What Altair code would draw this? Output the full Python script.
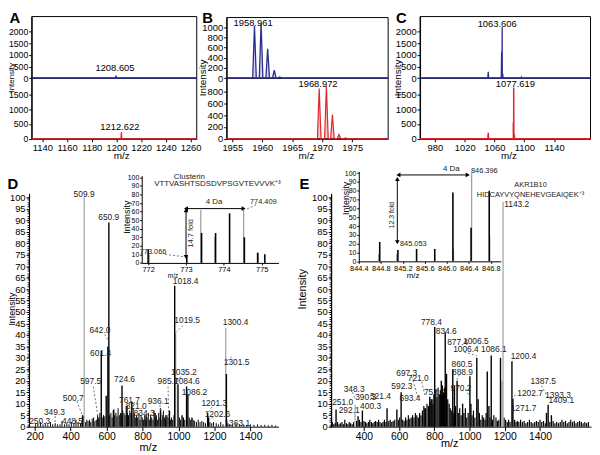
import altair as alt
import pandas as pd

W, H = 591, 446
FONT = "Liberation Sans"
BLUE = "#2b2d8e"
RED = "#e3242b"
GREY = "#a0a0a0"

# ---------------- data ----------------
# panel A (two stacked spectra)
A_blue_mz = [1199.7]
A_blue_h = [110]
A_red_mz = [1204.0]
A_red_h = [230]
# panel B
B_blue_mz = [1958.7, 1959.8, 1960.9, 1962.0, 1962.9]
B_blue_h = [1020, 1070, 575, 155, 20]
B_red_mz = [1969.5, 1970.7, 1971.7, 1972.8, 1973.9]
B_red_h = [853, 893, 411, 71, 14]
# panel C
C_blue_mz = [1051.6, 1069.6, 1070.3, 1071.0, 1096.0]
C_blue_h = [270, 1150, 2210, 200, 40]
C_red_mz = [1051.6, 1085.3, 1085.8, 1086.5]
C_red_h = [200, 550, 1730, 150]

# panel D main spectrum
D_black_mz = [612.7, 607.2, 598, 570.5, 979, 997.4, 1045, 1052.4, 1266.7, 1162.3, 1167.8, 686, 640,
              713.5, 740, 820, 870, 900, 930, 950, 1020, 1075, 466, 557]
D_black_h = [89, 35, 13.5, 33, 61.5, 18.5, 17.5, 14, 23, 6, 4, 18, 7.5, 9, 11, 5, 6, 8, 5, 7, 5, 4, 5, 4]
D_grey_mz = [475.3, 1263, 984.5]
D_grey_h = [100, 43, 41]
D_noise_mz = [205, 218, 232, 246, 259, 273, 288, 300, 314, 327, 341, 352, 366, 379, 391, 404, 418, 430, 442,
              455, 463, 470, 482, 490, 497, 505, 512, 520, 528, 535, 543, 550, 563, 576, 583, 590, 617, 624,
              631, 637, 645, 652, 658, 664, 671, 677, 684, 690, 697, 703, 709, 716, 722, 729, 735, 741, 748,
              754, 760, 767, 773, 780, 786, 792, 799, 805, 812, 818, 825, 832, 838, 845, 851, 858, 864, 871,
              877, 884, 890, 897, 903, 910, 916, 923, 929, 936, 942, 949, 955, 962, 968, 975, 1005, 1012,
              1028, 1035, 1060, 1068, 1082, 1090, 1100, 1110, 1120, 1130, 1140, 1150, 1175, 1185, 1195,
              1210, 1222, 1235, 1248, 1275, 1285, 1300, 1320, 1340, 1360, 1380, 1400, 1420, 1440, 1460,
              1480, 1500, 1520, 1540]
D_noise_h = [1, 1.5, 2, 1, 1.5, 1, 2, 1, 1.5, 1, 1, 2.5, 1, 1.5, 1, 2, 1.5, 3, 2, 1.5, 2.5, 4.5, 2, 3, 2.5,
             3, 2, 3.5, 4, 2.5, 3, 5, 6, 4, 5, 4.5, 5, 6, 4, 7, 5, 6, 4.5, 8, 5, 6, 5.5, 7, 6, 5, 9, 6, 5,
             7, 6, 5, 8, 6, 4, 5, 4, 6, 3, 5, 4, 3, 5, 3, 4, 6, 3, 5, 4, 3, 7, 4, 5, 3, 6, 4, 3, 5, 7, 4,
             3, 5, 4, 6, 3, 4, 3, 5, 4, 3, 4, 3, 4, 3, 3, 2.5, 2, 3, 2, 2.5, 2, 1.5, 2, 1.5, 2, 1.5, 1, 2,
             1, 1.5, 1, 1, 1.5, 1, 1, 0.8, 1, 0.8, 1, 0.7, 0.8, 0.6, 0.8, 0.5]
D_lab_text = ["509.9", "650.9", "642.0", "601.4", "1018.4", "1019.5", "1300.4", "1301.5", "1035.2",
              "1084.6", "1086.2", "1201.3", "1202.6", "1363.1", "724.6", "761.7", "821.0", "834.3",
              "936.1", "985.7", "597.5", "500.7", "349.3", "448.5", "250.3"]
D_lab_mz = [475, 612.3, 562.9, 566.7, 1040, 1048.3, 1317.7, 1323.2, 1030.2, 1046.7, 1089, 1199, 1217,
            1327, 700, 727.8, 764.6, 808.6, 887.2, 942.2, 511.7, 414.4, 310, 410.6, 227.5]
D_lab_i = [101.6, 91.2, 42.2, 31.9, 63.5, 46.3, 45.6, 28.3, 24, 19.7, 15.1, 10.3, 5.3, 1.7, 20.8, 11.5,
           8.9, 6, 11.3, 19.7, 19.7, 12.5, 6.5, 2.5, 2.5]
D_lead_x1 = [590.4, 1024.6, 1295.7, 1012, 1061.5, 1185.8, 1195, 942.2, 896.6, 526, 434.8, 313.8]
D_lead_y1 = [40.2, 44.1, 30.5, 21.8, 13.9, 8.5, 4.2, 17.5, 9.4, 17.5, 11.1, 4.6]
D_lead_x2 = [609.9, 987.9, 1268.2, 997.2, 1052.2, 1166, 1173, 945.9, 905.4, 553.5, 469.4, 313.8]
D_lead_y2 = [37.6, 41.2, 28.6, 19.7, 12.1, 6.3, 3.6, 4.6, 4.6, 3.6, 4.2, 0]

# panel D inset
Di_black_mz = [772.0, 773.02, 773.41, 773.78, 774.15, 774.54, 774.89, 775.08]
Di_black_h = [16, 8, 35, 35, 58, 30, 12, 10]
Di_grey_mz = [772.03, 773.39, 773.76, 774.52, 774.91]
Di_grey_h = [10, 62, 30, 62, 11]

# panel E main spectrum
E_black_mz = [241.3, 366.3, 391, 531, 587, 611, 708, 745.8, 773.8, 786.7, 801.8, 839.3, 861.7, 869,
              904.4, 914, 929, 960.4, 1001.8, 1007.5, 1041, 1048.4, 1100.5, 1110, 1123, 1175.7, 1240.7,
              1246.3, 1446.4, 1437, 1465]
E_black_h = [7.5, 4.5, 7, 8, 7.5, 15, 4, 8, 13, 12, 43.5, 20, 41, 23, 25, 18, 20, 10, 22, 10, 30, 12,
             24, 9, 31, 30, 28.5, 12, 9.5, 6, 5]
E_grey_mz = [349.5, 1190.2, 1184.6]
E_grey_h = [9.5, 98, 20]
E_noise_mz = [220, 228, 236, 250, 258, 266, 275, 283, 291, 300, 308, 316, 324, 333, 341, 358, 374, 383,
              400, 408, 416, 425, 433, 442, 450, 458, 466, 475, 483, 491, 500, 508, 516, 525, 541, 549,
              558, 566, 575, 595, 603, 620, 628, 636, 644, 652, 660, 668, 676, 684, 692, 700, 716, 724,
              732, 740, 750, 758, 766, 776, 782, 792, 797, 808, 815, 821, 828, 834, 846, 852, 858, 876,
              884, 890, 896, 910, 920, 936, 944, 952, 968, 976, 984, 992, 1014, 1022, 1030, 1056, 1064,
              1072, 1080, 1088, 1094, 1116, 1130, 1138, 1150, 1158, 1166, 1196, 1205, 1214, 1222, 1230,
              1256, 1264, 1272, 1280, 1290, 1300, 1310, 1320, 1330, 1340, 1350, 1360, 1370, 1380, 1390,
              1400, 1410, 1420, 1430, 1456, 1475, 1485, 1495, 1505, 1515, 1525, 1535, 1545, 1555, 1565,
              1575, 1585, 1595, 1605, 1615, 1625, 1635, 1645, 1655, 1665, 1675]
E_noise_h = [2, 1, 1.5, 2, 1, 1.5, 2, 1, 3, 1.5, 1, 2, 1.5, 1, 2, 2.5, 3, 2, 2.5, 2, 1.5, 2, 3, 2, 1.5,
             2, 2.5, 2, 3, 2, 1.5, 2, 3, 2, 2.5, 3, 2, 2.5, 3, 3, 4, 3, 2.5, 4, 3, 5, 3.5, 4, 5, 4, 6, 5,
             6, 5, 7, 9, 8, 10, 9, 11, 12, 10, 14, 16, 13, 17, 14, 16, 18, 15, 17, 12, 10, 8, 7, 6, 9, 6,
             8, 5, 6, 8, 4, 6, 5, 7, 4, 6, 3, 5, 4, 3, 6, 4, 3, 5, 4, 2.5, 3, 4, 3, 2, 3, 2, 3, 2, 2.5,
             2, 3, 2, 2.5, 1.5, 2, 3, 2, 1.5, 2, 2.5, 2, 3, 2, 2.5, 1.5, 2, 2.5, 1.5, 2, 1.5, 2, 3, 2,
             2.5, 1.5, 2, 3, 2, 2.5, 1.5, 2, 2.5, 2, 1.5, 2, 1.5, 2]
E_lab_text = ["778.4", "834.6", "877.4", "1006.5", "1006.4", "1086.1", "1200.4", "860.5", "888.9",
              "970.2", "697.3", "721.0", "752.0", "592.3", "521.4", "348.3", "693.4", "390.3", "400.3",
              "251.0", "292.1", "1387.5", "1202.7", "1393.3", "1271.7", "1409.1", "1143.2"]
E_lab_mz = [783.3, 867.4, 932.4, 1035.5, 979.4, 1138, 1306.3, 957, 960, 951.5, 643, 708.3, 800, 615,
            493.5, 343.9, 661.7, 409.5, 437.5, 278.9, 315.9, 1418.4, 1343.8, 1502.5, 1306.3, 1520.9, 1268]
E_lab_i = [45.6, 41.8, 37, 37.5, 33.9, 33.9, 31, 27.5, 23.9, 16.7, 23.2, 21, 14.9, 17.9, 13.2, 16.4,
           12.4, 12.7, 8.9, 10.6, 7.2, 19.9, 14.6, 13.9, 8.2, 11.5, 96.9]
E_lead_x1 = [671.2, 727.3, 334.9, 979.5, 1259.8, 1408.9, 970, 942]
E_lead_y1 = [21.8, 19.6, 15, 16.4, 13.9, 17.9, 32.5, 22.7]
E_lead_x2 = [708.2, 745.8, 349.5, 1001.9, 1240.7, 1446.4, 1041, 927]
E_lead_y2 = [12.4, 13.9, 12.4, 12.4, 10.3, 12.4, 31, 20.3]

# panel E inset
Ei_black_mz = [844.78, 845.11, 845.45, 845.78, 846.11, 846.44, 846.77]
Ei_black_h = [22, 13, 14, 14, 78, 38, 80]
Ei_grey_mz = [844.76, 845.09, 846.12, 846.45, 846.78]
Ei_grey_h = [8, 8, 14, 100, 28]

# ---------------- panel geometry (pixels inside the plot area) ----------------
P = {
    "A_top": dict(xd=[1131.4, 1265], xr=[24, 191], yd=[0, 2660], yr=[68.3, 6]),
    "A_bot": dict(xd=[1131.4, 1265], xr=[24, 191], yd=[0, 2050], yr=[129.7, 68.3]),
    "B_top": dict(xd=[1954.06, 1981], xr=[221.3, 384.7], yd=[0, 1188], yr=[68.3, 7]),
    "B_bot": dict(xd=[1954.06, 1981], xr=[221.3, 384.7], yd=[0, 1030], yr=[129.7, 68.3]),
    "C_top": dict(xd=[960, 1189], xr=[417, 589.5], yd=[0, 2660], yr=[68.3, 6]),
    "C_bot": dict(xd=[960, 1189], xr=[417, 589.5], yd=[0, 2050], yr=[129.7, 68.3]),
    "D": dict(xd=[168.7, 1556.3], xr=[21.3, 273.7], yd=[0, 101.7], yr=[421, 185]),
    "Di": dict(xd=[771.83, 775.44], xr=[135.3, 273.7], yd=[0, 102], yr=[255.3, 167]),
    "E": dict(xd=[213.3, 1690], xr=[327, 590], yd=[0, 101.7], yr=[421, 185]),
    "Ei": dict(xd=[844.4, 846.98], xr=[355, 498.7], yd=[0, 102], yr=[253.7, 162.7]),
}


def sc(d, r):
    return alt.Scale(domain=d, range=r, nice=False, zero=False)


def enc(p, xf="x", yf="y", xaxis=None, yaxis=None, **extra):
    g = P[p]
    e = dict(x=alt.X(xf, type="quantitative", scale=sc(g["xd"], g["xr"]), axis=xaxis),
             y=alt.Y(yf, type="quantitative", scale=sc(g["yd"], g["yr"]), axis=yaxis))
    e.update(extra)
    return e


def axis_left(p, values, size=9.5, fmt="d", tick=3, labels=True, domain=True, pad=1):
    return alt.Axis(orient="left", offset=-P[p]["xr"][0], values=values, format=fmt, grid=False,
                    title=None, labelFont=FONT, labelFontSize=size, labelColor="black",
                    tickColor="black", domainColor="black", tickSize=tick, labelPadding=pad,
                    labelFlush=False, labelOverlap=False, labels=labels, domain=domain)


def axis_bottom(p, values, size=9.5, fmt="d", tick=3):
    return alt.Axis(orient="bottom", offset=P[p]["yr"][0] - H, values=values, format=fmt, grid=False,
                    title=None, labelFont=FONT, labelFontSize=size, labelColor="black",
                    tickColor="black", domainColor="black", tickSize=tick, labelPadding=1,
                    labelFlush=False, labelOverlap=False)


layers = []


def profile(mz, h, hw, dom):
    pts = [(dom[0], 0.0), (dom[1], 0.0)]
    for c, v in zip(mz, h):
        pts += [(c - hw, 0.0), (c, v), (c + hw, 0.0)]
    pts.sort()
    return pd.DataFrame(pts, columns=["x", "y"])


def box(p):
    g = P[p]
    return pd.DataFrame({"x": [g["xd"][0]], "x2": [g["xd"][1]], "y": [0], "y2": [g["yd"][1]]})


def label_df(texts, xs, ys):
    return pd.DataFrame({"x": xs, "y": ys, "t": texts})


# ---- top row panels ----
top_specs = [
    ("A", A_blue_mz, A_blue_h, A_red_mz, A_red_h, 0.35, [1140, 1160, 1180, 1200, 1220, 1240, 1260],
     [0, 500, 1000, 1500, 2000], [0, 500, 1000, 1500], 8.8),
    ("B", B_blue_mz, B_blue_h, B_red_mz, B_red_h, 0.3, [1955, 1960, 1965, 1970, 1975],
     [0, 200, 400, 600, 800, 1000], [0, 200, 400, 600, 800], 9.5),
    ("C", C_blue_mz, C_blue_h, C_red_mz, C_red_h, 0.5, [980, 1020, 1060, 1100, 1140],
     [0, 500, 1000, 1500, 2000], [0, 500, 1000, 1500], 9.5),
]
for name, bmz, bh, rmz, rh, hw, xt, ytt, ytb, ysz in top_specs:
    pt, pb = name + "_top", name + "_bot"
    dft = profile(bmz, bh, hw, P[pt]["xd"])
    dfb = profile(rmz, rh, hw, P[pb]["xd"])
    if name == "B":
        layers.append(alt.Chart(dft).mark_area(color="#c9c9ec", opacity=0.8).encode(**enc(pt)))
        layers.append(alt.Chart(dfb).mark_area(color="#f4bcbc", opacity=0.8).encode(**enc(pb)))
    layers.append(alt.Chart(box(pt)).mark_rect(fillOpacity=0, stroke="black", strokeWidth=1)
                  .encode(**enc(pt, x2="x2", y2="y2")))
    layers.append(alt.Chart(box(pb)).mark_rect(fillOpacity=0, stroke="black", strokeWidth=1)
                  .encode(**enc(pb, x2="x2", y2="y2")))
    layers.append(alt.Chart(dft).mark_line(color=BLUE, strokeWidth=1.3)
                  .encode(**enc(pt, yaxis=axis_left(pt, ytt, size=ysz))))
    layers.append(alt.Chart(dfb).mark_line(color=RED, strokeWidth=1.5 if name == "C" else 1.2)
                  .encode(**enc(pb, yaxis=axis_left(pb, ytb, size=ysz), xaxis=axis_bottom(pb, xt))))

top_labels = [
    ("A_top", "1208.605", 1198.8, 451), ("A_bot", "1212.622", 1202.8, 385),
    ("B_top", "1958.961", 1958.46, 1077), ("B_bot", "1968.972", 1969.3, 936),
    ("C_top", "1063.606", 1063.6, 2330), ("C_bot", "1077.619", 1088, 1865),
]
for p, t, xv, yv in top_labels:
    layers.append(alt.Chart(label_df([t], [xv], [yv])).mark_text(font=FONT, fontSize=9.5, color="black")
                  .encode(**enc(p, text="t")))


# ---- spectra D / E ----
def sticks(p, mz, h, color, width=1.0):
    df = pd.DataFrame({"x": mz, "y": h, "y0": [0] * len(mz)})
    return alt.Chart(df).mark_rule(color=color, strokeWidth=width).encode(**enc(p, y2="y0"))


def leaders(p, x1, y1, x2, y2):
    df = pd.DataFrame({"x": x1, "y": y1, "x2": x2, "y2": y2})
    return alt.Chart(df).mark_rule(color="#555555", strokeWidth=0.8, strokeDash=[2, 2]).encode(
        **enc(p, x2="x2", y2="y2"))


def texts(p, t, xs, ys, size=8.5, **kw):
    return alt.Chart(label_df(t, xs, ys)).mark_text(font=FONT, fontSize=size, color="#222222", **kw).encode(
        **enc(p, text="t"))


five = [0, 5, 10, 15, 20, 25, 30, 35, 40, 45, 50, 55, 60, 65, 70, 75, 80, 85, 90, 95, 100]
minor = list(range(0, 101))
xticks_main = [200, 400, 600, 800, 1000, 1200, 1400]

for p, nmz, nh, nw, bmz, bh, gmz, gh, lt, lx, ly, l1, l2, l3, l4, xt in [
    ("D", D_noise_mz, D_noise_h, 1.0, D_black_mz, D_black_h, D_grey_mz, D_grey_h, D_lab_text, D_lab_mz,
     D_lab_i, D_lead_x1, D_lead_y1, D_lead_x2, D_lead_y2, xticks_main),
    ("E", E_noise_mz, E_noise_h, 1.2, E_black_mz, E_black_h, E_grey_mz, E_grey_h, E_lab_text, E_lab_mz,
     E_lab_i, E_lead_x1, E_lead_y1, E_lead_x2, E_lead_y2, [400, 600, 800, 1000, 1200, 1400]),
]:
    # minor ticks
    layers.append(sticks(p, [P[p]["xd"][0]], [0], "black").encode(
        y=alt.Y("y", type="quantitative", scale=sc(P[p]["yd"], P[p]["yr"]),
                axis=axis_left(p, minor, labels=False, tick=2))))
    layers.append(sticks(p, nmz, nh, "black", nw).encode(
        y=alt.Y("y", type="quantitative", scale=sc(P[p]["yd"], P[p]["yr"]),
                axis=axis_left(p, five, size=9.5, tick=3, pad=1)),
        x=alt.X("x", type="quantitative", scale=sc(P[p]["xd"], P[p]["xr"]),
                axis=axis_bottom(p, xt, size=10.5, tick=4))))
    layers.append(sticks(p, gmz, gh, GREY, 1.2))
    layers.append(sticks(p, bmz, bh, "black", 1.4))
    layers.append(leaders(p, l1, l2, l3, l4))
    layers.append(texts(p, lt, lx, ly))

# ---- insets ----
for p, bmz, bh, gmz, gh, yt, xt, fmt in [
    ("Di", Di_black_mz, Di_black_h, Di_grey_mz, Di_grey_h, [0, 10, 20, 30, 40, 50, 60, 70, 80, 90, 100],
     [772, 773, 774, 775], "d"),
    ("Ei", Ei_black_mz, Ei_black_h, Ei_grey_mz, Ei_grey_h, [0, 10, 20, 30, 40, 50, 60, 70, 80, 90, 100],
     [844.4, 844.8, 845.2, 845.6, 846.0, 846.4, 846.8], ".1f"),
]:
    layers.append(sticks(p, gmz, gh, GREY, 1.3).encode(
        y=alt.Y("y", type="quantitative", scale=sc(P[p]["yd"], P[p]["yr"]),
                axis=axis_left(p, yt, size=7, tick=2)),
        x=alt.X("x", type="quantitative", scale=sc(P[p]["xd"], P[p]["xr"]),
                axis=axis_bottom(p, xt, size=7.5, fmt=fmt, tick=2))))
    layers.append(sticks(p, bmz, bh, "black", 1.6))

# inset annotations
layers.append(texts("Di", ["Clusterin"], [773.09], [100], size=8))
layers.append(texts("Di", ["VTTVASHTSDSDVPSGVTEVVVK⁺³"], [773.83], [92.4], size=8))
layers.append(texts("Di", ["4 Da"], [773.74], [71.1], size=8))
layers.append(texts("Di", ["773.066"], [772.13], [12.2], size=7.5))
layers.append(texts("Di", ["774.409"], [775.04], [71.1], size=7.5))
layers.append(texts("Di", ["14.7 fold"], [773.13], [34.6], size=7.5, angle=270))
layers.append(leaders("Di", [772.45, 774.85], [10, 68], [772.98, 774.56], [7, 62]))
layers.append(texts("Ei", ["AKR1B10"], [847.52], [86.8], size=7.5))
layers.append(texts("Ei", ["HIDCAYVYQNEHEVGEAIQEK⁺³"], [847.52], [75.6], size=7.5))
layers.append(texts("Ei", ["4 Da"], [846.08], [104.7], size=8))
layers.append(texts("Ei", ["845.053"], [845.39], [19.8], size=7.5))
layers.append(texts("Ei", ["846.396"], [846.68], [102.6], size=7.5))
layers.append(texts("Ei", ["12.3 fold"], [845.0], [52.4], size=7, angle=270))

# arrows
for p, hx1, hx2, hy, vx, vy1, vy2 in [("Di", 773.0, 774.52, 63.5, 773.0, 61.5, 6.9),
                                      ("Ei", 845.12, 846.38, 98, 845.1, 93.5, 21.7)]:
    df = pd.DataFrame({"x": [hx1, vx], "y": [hy, vy1], "x2": [hx2, vx], "y2": [hy, vy2]})
    layers.append(alt.Chart(df).mark_rule(color="black", strokeWidth=1).encode(**enc(p, x2="x2", y2="y2")))
    heads = pd.DataFrame({"x": [hx1, hx2, vx, vx], "y": [hy, hy, vy1, vy2],
                          "s": ["triangle-left", "triangle-right", "triangle-up", "triangle-down"]})
    layers.append(alt.Chart(heads).mark_point(filled=True, color="black", size=22, opacity=1).encode(
        **enc(p, shape=alt.Shape("s", type="nominal", scale=None, legend=None))))


# ---- titles and panel letters ----
def note(text, x, y, size=10, angle=0, weight="normal"):
    return alt.Chart(pd.DataFrame({"t": [text]})).mark_text(
        font=FONT, fontSize=size, angle=angle, fontWeight=weight, color="black").encode(
        x=alt.value(x), y=alt.value(y), text="t")


for t, x, y in [("A", 2, 2), ("B", 197, 2), ("C", 393, 2), ("D", 0, 170), ("E", 295, 170)]:
    layers.append(note(t, x + 5, y + 6, size=15, weight="bold"))
layers.append(note("Intensity", 4, 68, size=8, angle=270))
for x, y in [(197, 68), (395, 68)]:
    layers.append(note("Intensity", x, y, size=10, angle=270))
for x, y in [(115, 147.5), (302, 147.5), (507, 147.5)]:
    layers.append(note("m/z", x, y, size=10))
layers.append(note("Intensity", 4.5, 302, size=9, angle=270))
layers.append(note("m/z", 142, 443, size=11))
layers.append(note("Intensity", 299, 282, size=11, angle=270))
layers.append(note("m/z", 447, 439, size=11))
layers.append(note("Intensity", 120, 209, size=9, angle=270))
layers.append(note("m/z", 167, 268.5, size=6.5))
layers.append(note("Intensity", 342, 190, size=9, angle=270))
layers.append(note("m/z", 410, 269, size=8))

chart = (alt.layer(*layers)
         .resolve_scale(x="independent", y="independent", shape="independent")
         .resolve_axis(x="independent", y="independent")
         .properties(width=W, height=H, autosize="none", padding=0, background="white")
         .configure_view(stroke=None))

chart.save("out.html", embed_options={"renderer": "svg", "actions": False})
